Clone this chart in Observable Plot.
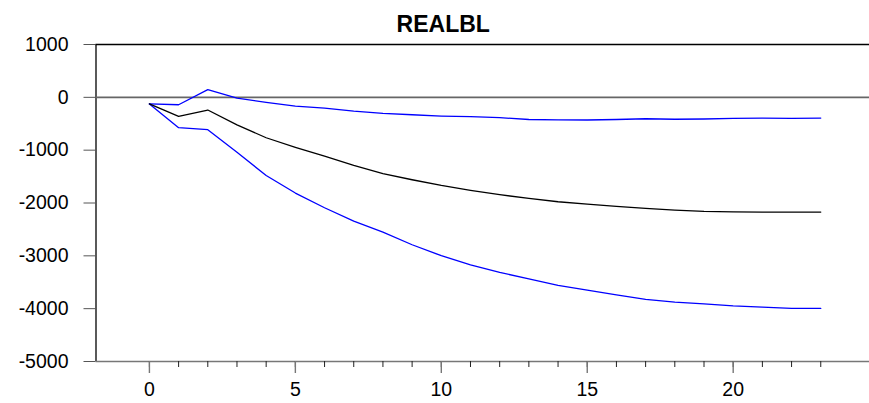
<!DOCTYPE html>
<html>
<head>
<meta charset="utf-8">
<script src="https://cdn.jsdelivr.net/npm/d3@7"></script>
<script src="https://cdn.jsdelivr.net/npm/@observablehq/plot@0.6"></script>
<style>
  html, body { margin: 0; padding: 0; background: #fff; }
  #chart svg { display: block; }
</style>
</head>
<body>
<div id="chart"></div>
<script>
// Impulse response of REALBL with its error band
const title = "REALBL";
const steps = d3.range(0, 24);
const response = [-125, -360, -240, -520, -765, -945, -1115, -1290, -1445, -1560, -1667, -1761,
                  -1843, -1913, -1976, -2022, -2064, -2102, -2134, -2159, -2168, -2172, -2172, -2172];
const upperBand = [-125, -140, 145, -15, -95, -165, -205, -262, -305, -330, -354, -366,
                   -385, -420, -425, -429, -420, -405, -415, -410, -398, -392, -398, -392];
const lowerBand = [-125, -575, -612, -1040, -1480, -1812, -2090, -2343, -2551, -2790, -2998, -3169,
                   -3314, -3434, -3561, -3649, -3737, -3826, -3875, -3908, -3946, -3971, -3996, -3996];
const yTicks = [1000, 0, -1000, -2000, -3000, -4000, -5000];
const xMajorTicks = [0, 5, 10, 15, 20];
const xMinorTicks = steps;
const xDomain = [-1.83, 24.67];
const yDomain = [-5000, 1000];

const rows = (vals, series) => steps.map((s, i) => ({step: s, value: vals[i], series}));
const bands = [...rows(upperBand, "upper"), ...rows(lowerBand, "lower")];
const centre = rows(response, "response");
const plain = d => String(d);

const chart = Plot.plot({
  width: 869,
  height: 403,
  marginLeft: 95.5,
  marginRight: 0,
  marginTop: 44,
  marginBottom: 42,
  style: {fontFamily: "'Liberation Sans', Arial, sans-serif", background: "#fff", color: "#000"},
  x: {domain: xDomain, axis: null},
  y: {domain: yDomain, axis: null},
  marks: [
    // frame edges
    Plot.ruleY([yDomain[1]], {stroke: "#000", strokeWidth: 1.3}),
    Plot.ruleX([xDomain[0]], {stroke: "#000", strokeWidth: 1.3}),
    Plot.ruleY([yDomain[0]], {stroke: "#777", strokeWidth: 1.6}),
    // zero reference
    Plot.ruleY([0], {stroke: "#666", strokeWidth: 1.6}),
    // axes
    Plot.axisY(yTicks, {tickSize: 12, tickPadding: 15.5, fontSize: 19.5, stroke: "#555", fill: "#000",
                        tickFormat: plain, label: null}),
    Plot.axisX(xMinorTicks, {tickSize: 6, text: null, stroke: "#222", label: null}),
    Plot.axisX(xMajorTicks, {tickSize: 12, tickPadding: 8.5, fontSize: 19.5, stroke: "#777", strokeWidth: 1.4,
                             fill: "#000", tickFormat: plain, label: null}),
    // series
    Plot.line(bands, {x: "step", y: "value", z: "series", stroke: "#0000ff", strokeWidth: 1.3}),
    Plot.line(centre, {x: "step", y: "value", stroke: "#000", strokeWidth: 1.3}),
    // title
    Plot.text([title], {frameAnchor: "top", lineAnchor: "bottom", dy: -13, dx: -39.5,
                        fontSize: 23, fontWeight: "bold", fill: "#000"})
  ]
});
document.getElementById("chart").append(chart);
</script>
</body>
</html>
